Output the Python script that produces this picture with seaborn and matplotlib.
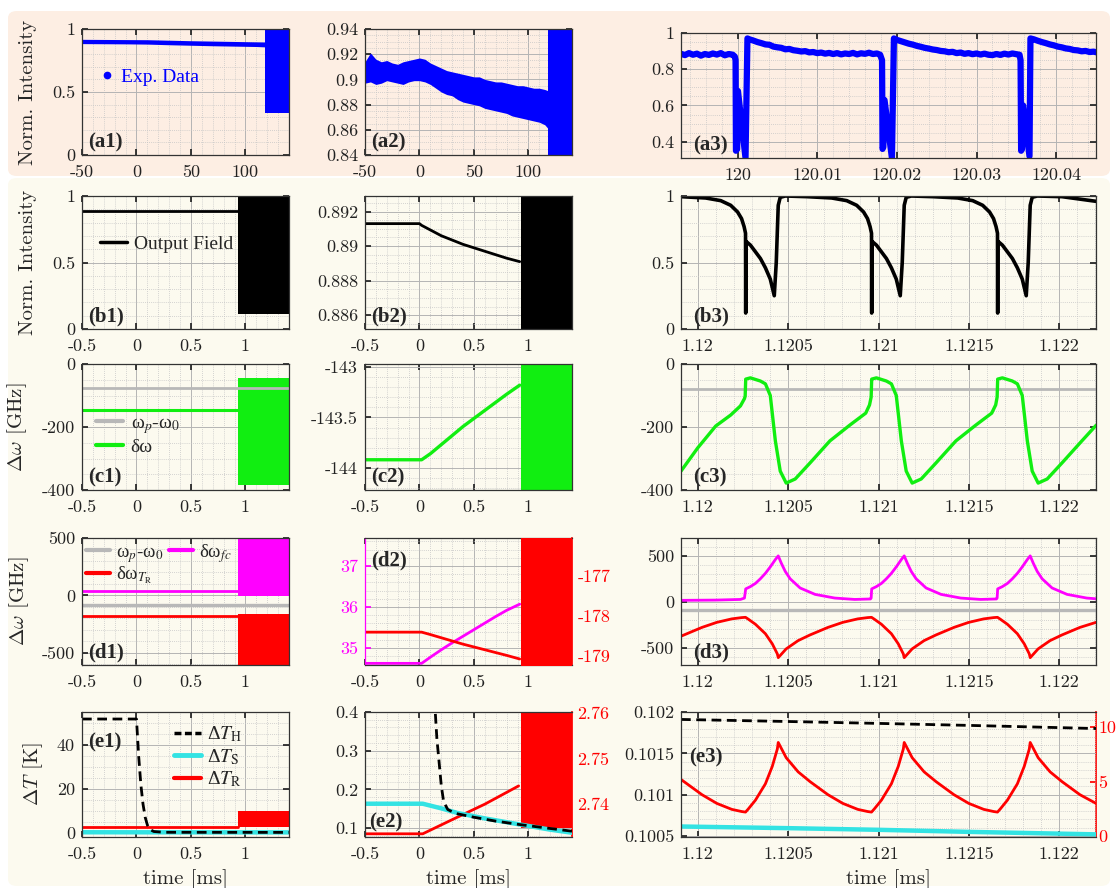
import numpy as np
import matplotlib.pyplot as plt
import seaborn as sns
from matplotlib.ticker import AutoMinorLocator
from matplotlib.patches import FancyBboxPatch
from matplotlib.lines import Line2D
from matplotlib.font_manager import FontProperties

sns.set_theme(style="ticks")
plt.rcParams["font.family"] = ["cmr10", "DejaVu Serif"]
plt.rcParams["mathtext.fontset"] = "cm"
plt.rcParams["axes.unicode_minus"] = False

W, H = 1117, 888
PEACH = "#fdeee3"
CREAM = "#fcfaef"
BLUE, GREEN, GREY = "#0000ff", "#11ee11", "#b8b8b8"
MAG, RED, CYAN = "#ff00ff", "#ff0000", "#33e3e3"

# ---------------- row a : measured trace ----------------
A_X = [-50, -30, -10, 10, 30, 50, 70, 90, 110, 118]
A1_UP = [0.918, 0.917, 0.916, 0.915, 0.911, 0.907, 0.904, 0.901, 0.898, 0.897]
A1_LO = [0.884, 0.883, 0.882, 0.880, 0.875, 0.871, 0.867, 0.864, 0.861, 0.858]
A_BURST_X = [118, 140]
A1_BURST = (0.33, 0.99)

A2_X = [-50, -45, -40, -35, -30, -25, -20, -15, -10, -5, 0, 5, 10, 15, 20, 25, 30, 35,
        40, 45, 50, 55, 60, 65, 70, 75, 80, 85, 90, 95, 100, 105, 110, 115, 118]
A2_UP = [0.914, 0.921, 0.916, 0.914, 0.915, 0.913, 0.912, 0.914, 0.915, 0.916, 0.917, 0.916,
         0.913, 0.911, 0.909, 0.907, 0.906, 0.905, 0.904, 0.903, 0.902, 0.902, 0.900, 0.899,
         0.898, 0.898, 0.897, 0.896, 0.895, 0.895, 0.894, 0.893, 0.893, 0.892, 0.891]
A2_LO = [0.897, 0.898, 0.896, 0.897, 0.899, 0.898, 0.897, 0.896, 0.898, 0.899, 0.899, 0.898,
         0.896, 0.893, 0.890, 0.888, 0.887, 0.884, 0.882, 0.881, 0.880, 0.879, 0.877, 0.876,
         0.875, 0.874, 0.873, 0.871, 0.870, 0.869, 0.868, 0.867, 0.866, 0.864, 0.861]
A2_BURST = (0.835, 0.945)

A3_PRE_X = np.linspace(119.9929, 119.9994, 14)
A3_PRE = [0.885, 0.878, 0.889, 0.880, 0.886, 0.875, 0.884, 0.879, 0.887, 0.881, 0.889, 0.877, 0.884, 0.880]
A3_T1_X = [119.99965, 119.99975, 119.99980, 119.99995, 120.00005, 120.00100, 120.00124]
A3_T1 = [0.87, 0.85, 0.35, 0.36, 0.68, 0.31, 0.97]
A3_P1_X = np.linspace(120.0015, 120.0175, 33)
A3_P1 = [0.965, 0.958, 0.950, 0.944, 0.937, 0.935, 0.925, 0.921, 0.918, 0.910, 0.912, 0.905,
         0.902, 0.898, 0.900, 0.893, 0.895, 0.889, 0.892, 0.886, 0.890, 0.884, 0.889, 0.882,
         0.887, 0.884, 0.890, 0.882, 0.888, 0.885, 0.891, 0.884, 0.887]
A3_T2_X = [120.0179, 120.01814, 120.01820, 120.01830, 120.01845, 120.01938, 120.01963]
A3_T2 = [0.88, 0.85, 0.36, 0.37, 0.63, 0.31, 0.97]
A3_P2_X = np.linspace(120.0200, 120.0350, 31)
A3_P2 = [0.962, 0.955, 0.948, 0.941, 0.936, 0.929, 0.924, 0.918, 0.914, 0.909, 0.906, 0.901,
         0.899, 0.894, 0.896, 0.889, 0.892, 0.885, 0.889, 0.883, 0.887, 0.881, 0.886, 0.880,
         0.878, 0.884, 0.879, 0.886, 0.881, 0.887, 0.883]
A3_T3_X = [120.0354, 120.03553, 120.03560, 120.03570, 120.03585, 120.03665, 120.03677]
A3_T3 = [0.88, 0.85, 0.35, 0.36, 0.60, 0.32, 0.97]
A3_P3_X = np.linspace(120.0372, 120.0452, 17)
A3_P3 = [0.965, 0.957, 0.950, 0.944, 0.937, 0.932, 0.925, 0.921, 0.915, 0.912, 0.906, 0.904,
         0.899, 0.901, 0.895, 0.897, 0.892]

# ---------------- rows b-e, columns 1 and 2 : slow time ----------------
SW_X = [-0.5, 0.93]              # steady-state segment
BURST_X = [0.93, 1.4]            # self-pulsing region
B1_Y = [0.89, 0.89]
B1_BURST = (0.11, 1.0)
B2_X = [-0.5, 0.0, 0.02, 0.2, 0.4, 0.6, 0.8, 0.92]
B2_Y = [0.8913, 0.8913, 0.8912, 0.8906, 0.8901, 0.8897, 0.8893, 0.8891]

C1_PUMP = [-77, -77]
C1_DW = [-145, -145]
C1_BURST = (-385, -43)
C2_X = [-0.5, 0.02, 0.1, 0.2, 0.3, 0.4, 0.5, 0.6, 0.7, 0.8, 0.92]
C2_Y = [-143.92, -143.92, -143.86, -143.77, -143.68, -143.59, -143.51, -143.43, -143.35,
        -143.27, -143.18]

D1_FC = [35, 35]
D1_PUMP = [-85, -85]
D1_TR = [-182, -182]
D1_FC_BURST = (-5, 500)
D1_TR_BURST = (-610, -160)
D2_X = [-0.5, 0.02, 0.1, 0.2, 0.3, 0.4, 0.5, 0.6, 0.7, 0.8, 0.92]
D2_FC = [34.63, 34.63, 34.78, 34.96, 35.13, 35.29, 35.45, 35.61, 35.77, 35.92, 36.07]
D2_TR = [-178.40, -178.40, -178.46, -178.54, -178.62, -178.70, -178.77, -178.84, -178.91,
         -178.98, -179.07]
D2_TR_BURST = (-179.3, -175.0)

E1_H_X = [-0.5, 0.0, 0.02, 0.04, 0.06, 0.08, 0.1, 0.12, 0.16, 0.25, 1.4]
E1_H = [51.8, 51.8, 35, 22, 13, 7, 3.5, 1.5, 0.5, 0.15, 0.1]
E1_S = [0.16, 0.1]
E1_R = [2.74, 2.74]
E1_R_BURST = (2.7, 9.8)
E2_H_X = [0.146, 0.16, 0.177, 0.2, 0.222, 0.26, 0.33, 0.5, 0.7, 0.95, 1.2, 1.4]
E2_H = [0.395, 0.33, 0.28, 0.21, 0.168, 0.148, 0.138, 0.128, 0.118, 0.108, 0.099, 0.092]
E2_S_X = [-0.5, 0.03, 0.2, 0.35, 0.6, 0.95, 1.2, 1.4]
E2_S = [0.163, 0.163, 0.151, 0.139, 0.125, 0.108, 0.096, 0.088]
E2_R_X = [-0.5, 0.03, 0.3, 0.6, 0.91]
E2_R = [2.7335, 2.7335, 2.7366, 2.7400, 2.7440]
E2_R_BURST = (2.7348, 2.765)

# ---------------- column 3 : fast time (self-pulsing) ----------------
B3_X = [1.119907, 1.120044, 1.120127, 1.120182, 1.12022, 1.120242, 1.120256, 1.120264,
        1.120265, 1.120266, 1.1202915, 1.120319, 1.1203464, 1.120374, 1.120401, 1.120423,
        1.120434, 1.120445, 1.120456, 1.120484, 1.120604, 1.120741, 1.120824, 1.120879,
        1.120917, 1.120939, 1.120953, 1.120961,
        1.120962, 1.120963, 1.1209885, 1.121016, 1.1210434, 1.121071, 1.121098, 1.12112,
        1.121131, 1.121142, 1.121153, 1.121181, 1.121301, 1.121438, 1.121521, 1.121576,
        1.121614, 1.121636, 1.12165, 1.121658,
        1.121659, 1.12166, 1.1216855, 1.121713, 1.1217404, 1.121768, 1.121795, 1.121817,
        1.121828, 1.121839, 1.12185, 1.121878, 1.122015, 1.122203]
B3_Y = [0.995, 0.985, 0.965, 0.93, 0.88, 0.83, 0.77, 0.72,
        0.12, 0.66, 0.63, 0.58, 0.53, 0.46, 0.375, 0.25,
        0.5, 0.93, 0.99, 1.0, 0.995, 0.985, 0.965, 0.93,
        0.88, 0.83, 0.77, 0.72,
        0.12, 0.66, 0.63, 0.58, 0.53, 0.46, 0.375, 0.25,
        0.5, 0.93, 0.99, 1.0, 0.995, 0.985, 0.965, 0.93,
        0.88, 0.83, 0.77, 0.72,
        0.12, 0.66, 0.63, 0.58, 0.53, 0.46, 0.375, 0.25,
        0.5, 0.93, 0.99, 1.0, 0.995, 0.96]

FAST_LIM = [1.119907, 1.122203]
C3_PUMP = [-78, -78]
C3_X = [1.119907, 1.12, 1.120099, 1.120182, 1.120236, 1.120258, 1.120262, 1.120265,
        1.120291, 1.120346, 1.120374, 1.120401, 1.120429, 1.120456, 1.120489, 1.120539,
        1.120621, 1.120731, 1.120841, 1.120929, 1.12095, 1.120959, 1.120962,
        1.120988, 1.121043, 1.121071, 1.121098, 1.121126, 1.121153, 1.121186, 1.121236,
        1.121318, 1.121428, 1.121538, 1.121626, 1.121648, 1.121656, 1.121659,
        1.121685, 1.12174, 1.121768, 1.121795, 1.121823, 1.12185, 1.121883, 1.121933,
        1.122015, 1.122125, 1.122203]
C3_Y = [-340, -266, -197, -162, -133, -110, -102, -48,
        -44, -54, -63, -100, -244, -340, -378, -365,
        -314, -244, -194, -156, -130, -105, -48,
        -44, -54, -63, -100, -244, -340, -378, -365,
        -314, -244, -194, -156, -130, -105, -48,
        -44, -54, -63, -100, -244, -340, -378, -365,
        -314, -244, -195]

D3_PUMP = [-85, -85]
D3_FC_X = [1.119907, 1.12010, 1.120236, 1.120258, 1.120265, 1.120291, 1.120319, 1.120346,
           1.120374, 1.120401, 1.120429, 1.120445, 1.120462, 1.120484, 1.120511, 1.120566,
           1.120649, 1.120758, 1.120868, 1.120955, 1.120959, 1.120962,
           1.120988, 1.121016, 1.121043, 1.121071, 1.121098, 1.121126, 1.121142, 1.121159,
           1.121181, 1.121208, 1.121263, 1.121346, 1.121455, 1.121565, 1.121652, 1.121656,
           1.121659,
           1.121685, 1.121713, 1.12174, 1.121768, 1.121795, 1.121823, 1.121839, 1.121856,
           1.121878, 1.121905, 1.12196, 1.122043, 1.122152, 1.122203]
D3_FC = [15, 18, 25, 40, 140, 165, 200, 250,
         310, 380, 460, 500, 420, 330, 250, 150,
         80, 40, 25, 30, 40, 140,
         165, 200, 250, 310, 380, 460, 500, 420,
         330, 250, 150, 80, 40, 25, 30, 40,
         140,
         165, 200, 250, 310, 380, 460, 500, 420,
         330, 250, 150, 80, 40, 32]

TR_X = [1.119907, 1.120023, 1.120105, 1.120188, 1.120243, 1.120264, 1.12028, 1.120319,
        1.120374, 1.120412, 1.12044, 1.120445, 1.120489, 1.120555, 1.120621, 1.12072,
        1.120802, 1.120885, 1.12094, 1.120961, 1.120977, 1.121016, 1.121071, 1.121109,
        1.121137, 1.121142, 1.121186, 1.121252, 1.121318, 1.121417, 1.121499, 1.121582,
        1.121637, 1.121658, 1.121674, 1.121713, 1.121768, 1.121806, 1.121834, 1.121839,
        1.121883, 1.121949, 1.122015, 1.122114, 1.122203]
D3_TR = [-376, -280, -225, -187, -173, -170, -191, -246,
         -349, -459, -569, -610, -514, -424, -362, -280,
         -225, -187, -173, -170, -191, -246, -349, -459,
         -569, -610, -514, -424, -362, -280, -225, -187,
         -173, -170, -191, -246, -349, -459, -569, -610,
         -514, -424, -362, -280, -225]
E3_R = [5.2, 3.8, 3.0, 2.45, 2.25, 2.2, 2.5, 3.3,
        4.8, 6.4, 8.0, 8.6, 7.2, 5.9, 5.0, 3.8,
        3.0, 2.45, 2.25, 2.2, 2.5, 3.3, 4.8, 6.4,
        8.0, 8.6, 7.2, 5.9, 5.0, 3.8, 3.0, 2.45,
        2.25, 2.2, 2.5, 3.3, 4.8, 6.4, 8.0, 8.6,
        7.2, 5.9, 5.0, 3.8, 3.0]
E3_SLOW_X = [1.119907, 1.1205, 1.121, 1.1215, 1.122203]
E3_H = [0.101910, 0.101885, 0.101862, 0.101838, 0.101800]
E3_S = [0.100615, 0.100595, 0.100575, 0.100550, 0.100520]

# ---------------- helpers ----------------
fig = plt.figure(figsize=(W / 100, H / 100), dpi=100)
fig.patches.append(FancyBboxPatch((8 / W, 1 - 176 / H), 1102 / W, 165 / H,
                                  boxstyle="round,pad=0,rounding_size=0.008",
                                  transform=fig.transFigure, fc=PEACH, ec="none", zorder=-5))
fig.patches.append(FancyBboxPatch((8 / W, 1 - 886 / H), 1102 / W, 708 / H,
                                  boxstyle="round,pad=0,rounding_size=0.008",
                                  transform=fig.transFigure, fc=CREAM, ec="none", zorder=-5))

leg_font = FontProperties(family="Liberation Serif", size=14, math_fontfamily="stix")


def panel(l, t, r, b, fc):
    ax = fig.add_axes([l / W, 1 - b / H, (r - l) / W, (b - t) / H])
    ax.set_facecolor(fc)
    return ax


def style(ax, xlim, ylim, xt, xl, yt, yl, right=True):
    ax.set_xlim(xlim)
    ax.set_ylim(ylim)
    ax.set_xticks(xt, xl)
    ax.set_yticks(yt, yl)
    ax.xaxis.set_minor_locator(AutoMinorLocator())
    ax.yaxis.set_minor_locator(AutoMinorLocator())
    ax.grid(True, which="major", color="#b4b4b4", lw=0.7)
    ax.grid(True, which="minor", color="#c6c6c6", lw=0.6, ls=(0, (1, 1.5)))
    ax.set_axisbelow(True)
    ax.tick_params(which="major", direction="in", length=4, top=True, right=right,
                   labelsize=13, pad=5, colors="#222222")
    ax.tick_params(axis="x", which="major", pad=7)
    ax.tick_params(which="minor", length=0)
    for s in ax.spines.values():
        s.set_color("#333333")
        s.set_linewidth(0.9)


def line(ax, x, y, color, lw, **kw):
    sns.lineplot(x=np.asarray(x, float), y=np.asarray(y, float), ax=ax, color=color, lw=lw,
                 sort=False, estimator=None, legend=False, **kw)


def tag(ax, x, y, s):
    ax.text(x, y, s, transform=ax.transAxes, fontfamily="Liberation Serif",
            fontweight="bold", fontsize=15, zorder=10)


def right_axis(ax, lim_l, lim_r, ticks, labels, color, pad=4):
    a0, a1 = lim_l
    b0, b1 = lim_r
    fwd = lambda v: b0 + (np.asarray(v) - a0) * (b1 - b0) / (a1 - a0)
    inv = lambda v: a0 + (np.asarray(v) - b0) * (a1 - a0) / (b1 - b0)
    sec = ax.secondary_yaxis("right", functions=(fwd, inv))
    sec.set_yticks(ticks, labels)
    sec.tick_params(direction="in", length=4, colors=color, labelsize=13, pad=pad)
    sec.spines["right"].set_color(color)
    ax.spines["right"].set_visible(False)
    return inv


def xlabel(ax):
    ax.set_xlabel("time [ms]", fontsize=15)
    ax.xaxis.set_label_coords(0.5, -0.26)


C1, C2, C3 = (82, 289), (365, 572), (681, 1096)
RA, RB, RC, RD, RE = (29, 155), (196, 329), (364, 490), (538, 665), (712, 837)
SLOW_T = [-0.5, 0, 0.5, 1]
SLOW_L = ["-0.5", "0", "0.5", "1"]
FAST_T = [1.12, 1.1205, 1.121, 1.1215, 1.122]
FAST_L = ["1.12", "1.1205", "1.121", "1.1215", "1.122"]
SLOW_LIM = (-0.5, 1.4)

# ---------------- row a ----------------
ax = panel(C1[0], RA[0], C1[1], RA[1], PEACH)
style(ax, (-50, 140), (0, 1), [-50, 0, 50, 100], ["-50", "0", "50", "100"],
      [0, 0.5, 1], ["0", "0.5", "1"])
ax.fill_between(A_X, A1_LO, A1_UP, color=BLUE, lw=0)
ax.fill_between(A_BURST_X, A1_BURST[0], A1_BURST[1], color=BLUE, lw=0)
ax.set_ylabel("Norm. Intensity", fontsize=15)
ax.yaxis.set_label_coords(-0.215, 0.5)
ax.legend([Line2D([], [], color=BLUE, marker=".", ls="none", ms=9)], ["Exp. Data"],
          prop=leg_font, labelcolor=BLUE, frameon=False, loc="center left",
          bbox_to_anchor=(0.0, 0.62), handlelength=0.8, handletextpad=0.3)
tag(ax, 0.03, 0.06, "(a1)")

ax = panel(C2[0], RA[0], C2[1], RA[1], PEACH)
style(ax, (-50, 140), (0.84, 0.94), [-50, 0, 50, 100], ["-50", "0", "50", "100"],
      [0.84, 0.86, 0.88, 0.9, 0.92, 0.94], ["0.84", "0.86", "0.88", "0.9", "0.92", "0.94"])
ax.fill_between(A2_X, A2_LO, A2_UP, color=BLUE, lw=0)
ax.fill_between(A_BURST_X, A2_BURST[0], A2_BURST[1], color=BLUE, lw=0)
tag(ax, 0.03, 0.06, "(a2)")

ax = panel(C3[0], RA[0] + 4, C3[1], RA[1] + 3, PEACH)
style(ax, (119.9929, 120.045), (0.31, 1.0), [120, 120.01, 120.02, 120.03, 120.04],
      ["120", "120.01", "120.02", "120.03", "120.04"], [0.4, 0.6, 0.8, 1],
      ["0.4", "0.6", "0.8", "1"])
a3_x = np.concatenate([A3_PRE_X, A3_T1_X, A3_P1_X, A3_T2_X, A3_P2_X, A3_T3_X, A3_P3_X])
a3_y = np.concatenate([A3_PRE, A3_T1, A3_P1, A3_T2, A3_P2, A3_T3, A3_P3])
line(ax, a3_x, a3_y, BLUE, 4.5)
tag(ax, 0.03, 0.06, "(a3)")

# ---------------- row b ----------------
ax = panel(C1[0], RB[0], C1[1], RB[1], CREAM)
style(ax, SLOW_LIM, (0, 1), SLOW_T, SLOW_L, [0, 0.5, 1], ["0", "0.5", "1"])
line(ax, SW_X, B1_Y, "black", 2)
ax.fill_between(BURST_X, B1_BURST[0], B1_BURST[1], color="black", lw=0)
ax.set_ylabel("Norm. Intensity", fontsize=15)
ax.yaxis.set_label_coords(-0.215, 0.5)
ax.legend([Line2D([], [], color="black", lw=2.5)], ["Output Field"], prop=leg_font,
          frameon=False, loc="center left", bbox_to_anchor=(0.0, 0.64),
          handlelength=1.4, handletextpad=0.4)
tag(ax, 0.03, 0.06, "(b1)")

ax = panel(C2[0], RB[0], C2[1], RB[1], CREAM)
style(ax, SLOW_LIM, (0.8852, 0.8929), SLOW_T, SLOW_L, [0.886, 0.888, 0.89, 0.892],
      ["0.886", "0.888", "0.89", "0.892"])
line(ax, B2_X, B2_Y, "black", 2)
ax.fill_between(BURST_X, 0.884, 0.894, color="black", lw=0)
tag(ax, 0.03, 0.06, "(b2)")

ax = panel(C3[0], RB[0], C3[1], RB[1], CREAM)
style(ax, FAST_LIM, (0, 1.0), FAST_T, FAST_L, [0, 0.5, 1], ["0", "0.5", "1"])
line(ax, B3_X, B3_Y, "black", 2.6)
tag(ax, 0.03, 0.06, "(b3)")

# ---------------- row c ----------------
ax = panel(C1[0], RC[0], C1[1], RC[1], CREAM)
style(ax, SLOW_LIM, (-400, 0), SLOW_T, SLOW_L, [-400, -200, 0], ["-400", "-200", "0"])
ax.fill_between(BURST_X, C1_BURST[0], C1_BURST[1], color=GREEN, lw=0)
line(ax, SW_X, C1_DW, GREEN, 2.2)
line(ax, SLOW_LIM, C1_PUMP, GREY, 2)
ax.set_ylabel(r"$\Delta\omega$ [GHz]", fontsize=15)
ax.yaxis.set_label_coords(-0.255, 0.5)
ax.legend([Line2D([], [], color=GREY, lw=3), Line2D([], [], color=GREEN, lw=3)],
          [r"ω$_{p}$-ω$_{\mathit{0}}$", "δω"], prop=leg_font, frameon=False,
          loc="lower left", bbox_to_anchor=(0.0, 0.16), handlelength=1.4,
          handletextpad=0.4, labelspacing=0.15, borderpad=0.2)
tag(ax, 0.03, 0.06, "(c1)")

ax = panel(C2[0], RC[0], C2[1], RC[1], CREAM)
style(ax, SLOW_LIM, (-144.22, -142.97), SLOW_T, SLOW_L, [-144, -143.5, -143],
      ["-144", "-143.5", "-143"])
line(ax, C2_X, C2_Y, GREEN, 2.4)
ax.fill_between(BURST_X, -145, -142, color=GREEN, lw=0)
tag(ax, 0.03, 0.06, "(c2)")

ax = panel(C3[0], RC[0], C3[1], RC[1], CREAM)
style(ax, FAST_LIM, (-400, 0), FAST_T, FAST_L, [-400, -200, 0], ["-400", "-200", "0"])
line(ax, FAST_LIM, C3_PUMP, GREY, 2)
line(ax, C3_X, C3_Y, GREEN, 2.4)
tag(ax, 0.03, 0.06, "(c3)")

# ---------------- row d ----------------
ax = panel(C1[0], RD[0], C1[1], RD[1], CREAM)
style(ax, SLOW_LIM, (-605, 500), SLOW_T, SLOW_L, [-500, 0, 500], ["-500", "0", "500"])
ax.fill_between(BURST_X, D1_FC_BURST[0], D1_FC_BURST[1], color=MAG, lw=0)
ax.fill_between(BURST_X, D1_TR_BURST[0], D1_TR_BURST[1], color=RED, lw=0)
line(ax, SW_X, D1_FC, MAG, 2)
line(ax, SW_X, D1_TR, RED, 2)
line(ax, SLOW_LIM, D1_PUMP, GREY, 2.4)
ax.set_ylabel(r"$\Delta\omega$ [GHz]", fontsize=15)
ax.yaxis.set_label_coords(-0.245, 0.5)
ax.legend([Line2D([], [], color=GREY, lw=3), Line2D([], [], color=RED, lw=3),
           Line2D([], [], color=MAG, lw=3)],
          [r"ω$_{p}$-ω$_{\mathit{0}}$", r"δω$_{T_{\rm R}}$", r"δω$_{\mathit{fc}}$"],
          prop=FontProperties(family="Liberation Serif", size=13.5, math_fontfamily="stix"),
          frameon=False, ncol=2, loc="upper left", borderaxespad=0.1, borderpad=0.1,
          bbox_to_anchor=(0.0, 1.0), handlelength=1.3, handletextpad=0.3,
          labelspacing=0.0, columnspacing=0.3)
tag(ax, 0.03, 0.06, "(d1)")

ax = panel(C2[0], RD[0], C2[1], RD[1], CREAM)
style(ax, SLOW_LIM, (34.59, 37.68), SLOW_T, SLOW_L, [35, 36, 37], ["35", "36", "37"],
      right=False)
ax.tick_params(axis="y", colors=MAG)
ax.spines["left"].set_color(MAG)
to_left = right_axis(ax, (34.59, 37.68), (-179.22, -176.05), [-179, -178, -177],
                     ["-179", "-178", "-177"], RED)
line(ax, D2_X, D2_FC, MAG, 2)
line(ax, D2_X, to_left(D2_TR), RED, 2)
ax.fill_between(BURST_X, to_left(D2_TR_BURST[0]), to_left(D2_TR_BURST[1]), color=RED,
                lw=0, zorder=3)
tag(ax, 0.03, 0.78, "(d2)")

ax = panel(C3[0], RD[0], C3[1], RD[1], CREAM)
style(ax, FAST_LIM, (-690, 695), FAST_T, FAST_L, [-500, 0, 500], ["-500", "0", "500"])
line(ax, FAST_LIM, D3_PUMP, GREY, 2.4)
line(ax, D3_FC_X, D3_FC, MAG, 2)
line(ax, TR_X, D3_TR, RED, 2)
tag(ax, 0.03, 0.06, "(d3)")

# ---------------- row e ----------------
ax = panel(C1[0], RE[0], C1[1], RE[1], CREAM)
style(ax, SLOW_LIM, (-2, 55), SLOW_T, SLOW_L, [0, 20, 40], ["0", "20", "40"])
ax.fill_between(BURST_X, E1_R_BURST[0], E1_R_BURST[1], color=RED, lw=0)
line(ax, SW_X, E1_R, RED, 2)
line(ax, SLOW_LIM, E1_S, CYAN, 3.2)
line(ax, E1_H_X, E1_H, "black", 2, linestyle=(0, (3.5, 2)))
ax.set_ylabel(r"$\Delta T$ [K]", fontsize=15)
ax.yaxis.set_label_coords(-0.18, 0.5)
xlabel(ax)
ax.legend([Line2D([], [], color="black", lw=2.5, ls=(0, (2, 1))),
           Line2D([], [], color=CYAN, lw=3.5), Line2D([], [], color=RED, lw=3)],
          [r"Δ$T_{\rm H}$", r"Δ$T_{\rm S}$", r"Δ$T_{\rm R}$"], prop=leg_font,
          frameon=False, loc="upper left", bbox_to_anchor=(0.36, 1.04),
          handlelength=1.4, handletextpad=0.3, labelspacing=0.15)
tag(ax, 0.03, 0.72, "(e1)")

ax = panel(C2[0], RE[0], C2[1], RE[1], CREAM)
style(ax, SLOW_LIM, (0.077, 0.4), SLOW_T, SLOW_L, [0.1, 0.2, 0.3, 0.4],
      ["0.1", "0.2", "0.3", "0.4"], right=False)
to_left = right_axis(ax, (0.077, 0.4), (2.7328, 2.7602), [2.74, 2.75, 2.76],
                     ["2.74", "2.75", "2.76"], RED)
ax.fill_between(BURST_X, to_left(E2_R_BURST[0]), to_left(E2_R_BURST[1]), color=RED, lw=0)
line(ax, E2_R_X, to_left(E2_R), RED, 2)
line(ax, E2_S_X, E2_S, CYAN, 3.2)
line(ax, E2_H_X, E2_H, "black", 2, linestyle=(0, (3.5, 2)))
xlabel(ax)
tag(ax, 0.02, 0.08, "(e2)")

ax = panel(C3[0], RE[0], C3[1], RE[1], CREAM)
style(ax, FAST_LIM, (0.100488, 0.101942), FAST_T, FAST_L,
      [0.1005, 0.101, 0.1015, 0.102], ["0.1005", "0.101", "0.1015", "0.102"], right=False)
to_left = right_axis(ax, (0.100488, 0.101942), (-0.09, 10.96), [0, 5, 10],
                     ["0", "5", "10"], RED, pad=1.5)
line(ax, TR_X, to_left(E3_R), RED, 2)
line(ax, E3_SLOW_X, E3_S, CYAN, 3.2)
line(ax, E3_SLOW_X, E3_H, "black", 2, linestyle=(0, (3.5, 2)))
xlabel(ax)
tag(ax, 0.02, 0.6, "(e3)")

fig.savefig("out.png", dpi=100)
